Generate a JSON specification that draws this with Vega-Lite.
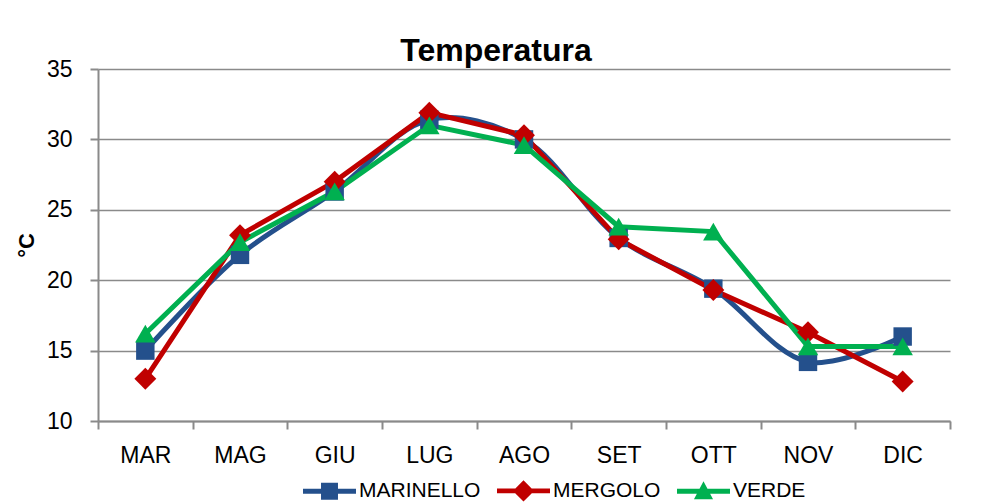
{
  "$schema": "https://vega.github.io/schema/vega-lite/v6.json",
  "width": 852,
  "height": 352,
  "autosize": {"type": "none"},
  "padding": {"left": 98, "top": 69, "right": 32, "bottom": 83},
  "background": "white",
  "title": {"text": "Temperatura", "font": "Liberation Sans", "fontSize": 32, "fontWeight": "bold", "color": "black", "anchor": "middle", "baseline": "alphabetic", "offset": 7, "dx": -28, "dy": 42},
  "config": {
    "font": "Liberation Sans",
    "view": {"stroke": null},
    "axis": {"domainColor": "#8a8a8a", "domainWidth": 2, "tickColor": "#8a8a8a", "tickWidth": 2, "tickSize": 8, "gridColor": "#8a8a8a", "gridWidth": 1.6, "labelColor": "black", "labelFont": "Liberation Sans", "labelFontSize": 23}
  },
  "data": {"values": [
    {"mese": "MAR", "serie": "MARINELLO", "temp": 15.0},
    {"mese": "MAG", "serie": "MARINELLO", "temp": 21.8},
    {"mese": "GIU", "serie": "MARINELLO", "temp": 26.3},
    {"mese": "LUG", "serie": "MARINELLO", "temp": 31.4},
    {"mese": "AGO", "serie": "MARINELLO", "temp": 30.0},
    {"mese": "SET", "serie": "MARINELLO", "temp": 23.0},
    {"mese": "OTT", "serie": "MARINELLO", "temp": 19.4},
    {"mese": "NOV", "serie": "MARINELLO", "temp": 14.2},
    {"mese": "DIC", "serie": "MARINELLO", "temp": 16.0},
    {"mese": "MAR", "serie": "MERGOLO", "temp": 13.0},
    {"mese": "MAG", "serie": "MERGOLO", "temp": 23.2},
    {"mese": "GIU", "serie": "MERGOLO", "temp": 27.0},
    {"mese": "LUG", "serie": "MERGOLO", "temp": 31.9},
    {"mese": "AGO", "serie": "MERGOLO", "temp": 30.3},
    {"mese": "SET", "serie": "MERGOLO", "temp": 22.9},
    {"mese": "OTT", "serie": "MERGOLO", "temp": 19.3},
    {"mese": "NOV", "serie": "MERGOLO", "temp": 16.3},
    {"mese": "DIC", "serie": "MERGOLO", "temp": 12.8},
    {"mese": "MAR", "serie": "VERDE", "temp": 16.2},
    {"mese": "MAG", "serie": "VERDE", "temp": 22.7},
    {"mese": "GIU", "serie": "VERDE", "temp": 26.3},
    {"mese": "LUG", "serie": "VERDE", "temp": 31.0},
    {"mese": "AGO", "serie": "VERDE", "temp": 29.6},
    {"mese": "SET", "serie": "VERDE", "temp": 23.8},
    {"mese": "OTT", "serie": "VERDE", "temp": 23.45},
    {"mese": "NOV", "serie": "VERDE", "temp": 15.3},
    {"mese": "DIC", "serie": "VERDE", "temp": 15.3}
  ]},
  "encoding": {
    "x": {
      "field": "mese", "type": "ordinal",
      "sort": ["MAR", "MAG", "GIU", "LUG", "AGO", "SET", "OTT", "NOV", "DIC"],
      "scale": {"type": "band", "paddingInner": 0, "paddingOuter": 0},
      "axis": {"title": null, "grid": false, "tickBand": "extent", "labelAngle": 0, "labelPadding": 15}
    },
    "y": {
      "field": "temp", "type": "quantitative",
      "scale": {"domain": [10, 35], "nice": false, "zero": false},
      "axis": {"values": [10, 15, 20, 25, 30, 35], "grid": true, "labelPadding": 18, "title": "°C", "titleFont": "Liberation Sans", "titleFontSize": 22, "titleFontWeight": "bold", "titleColor": "black", "titlePadding": 8}
    },
    "color": {
      "field": "serie", "type": "nominal",
      "scale": {"domain": ["MARINELLO", "MERGOLO", "VERDE"], "range": ["#24508C", "#C00000", "#00B050"]},
      "legend": {
        "title": null, "orient": "none", "direction": "horizontal", "legendX": 205, "legendY": 395,
        "labelFont": "Liberation Sans", "labelFontSize": 21, "labelColor": "black", "labelOffset": 3, "columnPadding": 16,
        "symbolSize": 2809,
        "encode": {"symbols": {"update": {
          "shape": {"signal": "datum.value === 'MARINELLO' ? 'M-1,-0.09H1V0.09H-1Z M-0.32,-0.32H0.32V0.32H-0.32Z' : datum.value === 'MERGOLO' ? 'M-1,-0.09H1V0.09H-1Z M0,-0.4L0.4,0L0,0.4L-0.4,0Z' : 'M-1,-0.09H1V0.09H-1Z M0,-0.38L0.36,0.3H-0.36Z'"},
          "fill": {"scale": "color", "field": "value"},
          "fillOpacity": {"value": 1},
          "strokeWidth": {"value": 0},
          "size": {"value": 2809}
        }}}
      }
    }
  },
  "layer": [
    {"transform": [{"filter": "datum.serie === 'MARINELLO'"}], "mark": {"type": "line", "interpolate": "catmull-rom", "strokeWidth": 5}},
    {"transform": [{"filter": "datum.serie !== 'MARINELLO'"}], "mark": {"type": "line", "strokeWidth": 5}},
    {"transform": [{"filter": "datum.serie === 'MARINELLO'"}], "mark": {"type": "point", "shape": "square", "filled": true, "opacity": 1, "size": 340}},
    {"transform": [{"filter": "datum.serie === 'MERGOLO'"}], "mark": {"type": "point", "shape": "diamond", "filled": true, "opacity": 1, "size": 480}},
    {"transform": [{"filter": "datum.serie === 'VERDE'"}], "mark": {"type": "point", "shape": "triangle-up", "filled": true, "opacity": 1, "size": 420}}
  ]
}
